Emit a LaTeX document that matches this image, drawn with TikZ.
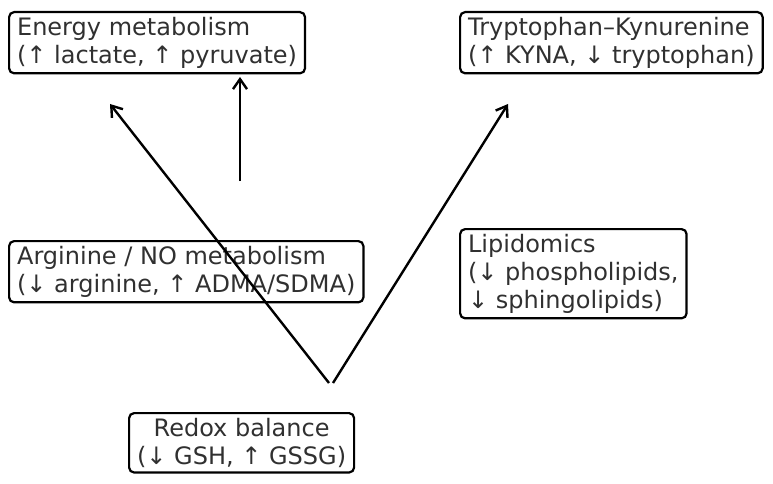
\documentclass[tikz,border=0pt]{standalone}
\usepackage{fontspec}
\setmainfont{DejaVu Sans}
\usetikzlibrary{arrows.meta}
\definecolor{labelgray}{HTML}{303030}

\tikzset{
    pathbox/.style={draw=black, line width=2.2pt, rounded corners=5pt, text=labelgray,
        font=\fontsize{24}{28}\selectfont, inner xsep=8pt, inner ysep=5pt,
        anchor=north west, align=left},
    trend/.style={line width=2.4pt, -{Straight Barb[length=10pt,width=14pt,line width=2.4pt]}}
}

\begin{document}
\begin{tikzpicture}[x=1pt, y=-1pt]
    \useasboundingbox (0,0) rectangle (773,484);

    % pathway boxes
    \node[pathbox] (energy) at (8,11) {Energy metabolism\\(↑ lactate, ↑ pyruvate)};
    \node[pathbox] (trp) at (459,11) {Tryptophan–Kynurenine\\(↑ KYNA, ↓ tryptophan)};
    \node[pathbox] (arg) at (8,240) {Arginine / NO metabolism\\(↓ arginine, ↑ ADMA/SDMA)};
    \node[pathbox] (lipid) at (459,228) {Lipidomics\\(↓ phospholipids,\\↓ sphingolipids)};
    \node[pathbox, align=center] (redox) at (128,412) {Redox balance\\(↓ GSH, ↑ GSSG)};

    % free ends of the arrows
    \coordinate (redoxL) at (329,383);
    \coordinate (redoxR) at (333,383);
    \coordinate (energyTip) at (110,104);
    \coordinate (trpTip) at (508,104);
    \coordinate (energyFoot) at (240,181);
    \coordinate (energyTop) at (240,77);

    \draw[trend] (redoxL) -- (energyTip);
    \draw[trend] (redoxR) -- (trpTip);
    \draw[trend] (energyFoot) -- (energyTop);
\end{tikzpicture}
\end{document}
